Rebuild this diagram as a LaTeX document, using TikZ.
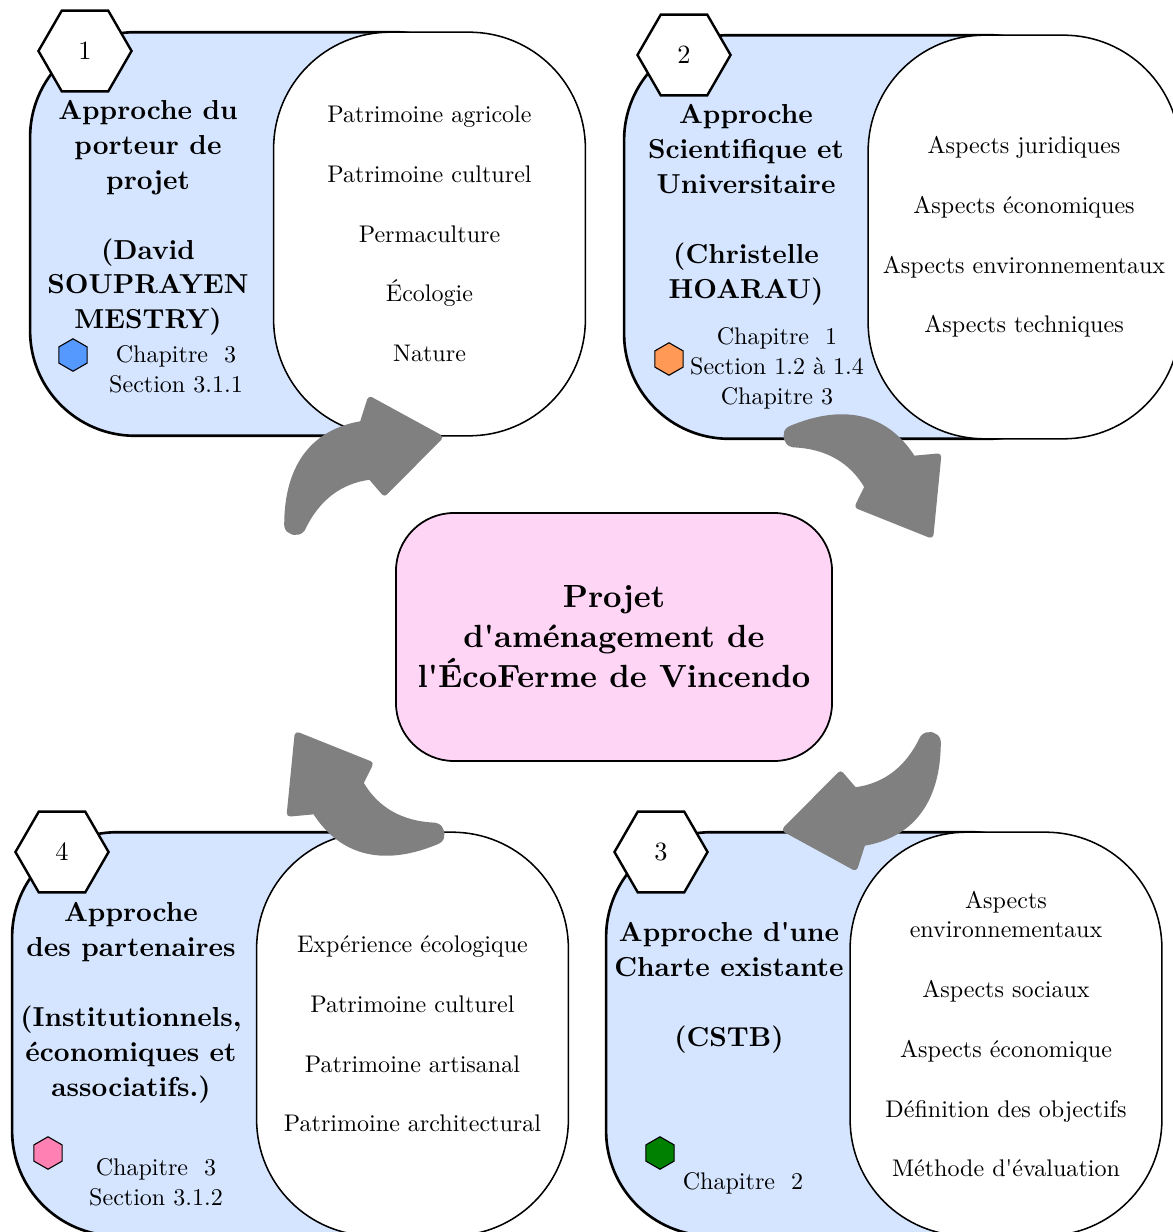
\documentclass[11pt,tikz,border=0pt]{standalone}
\usepackage{fontspec}
\setmainfont{lmroman10-regular}[Extension=.otf, BoldFont=lmroman10-bold, ItalicFont=lmroman10-italic, BoldItalicFont=lmroman10-bolditalic, Ligatures=TeXOff]
\usetikzlibrary{shapes.geometric}
\definecolor{ecoblue}{RGB}{213,229,255}
\definecolor{ecopink}{RGB}{255,213,246}
\definecolor{ecogray}{RGB}{128,128,128}
\definecolor{markblue}{RGB}{85,153,255}
\definecolor{markorange}{RGB}{255,153,85}
\definecolor{markpink}{RGB}{255,128,178}
\definecolor{markgreen}{RGB}{0,128,0}
\tikzset{
  approach/.style={draw, line width=1.2pt, fill=ecoblue, rounded corners=1.68cm, minimum width=7.52cm, minimum height=6.46cm},
  itemlist/.style={draw, line width=0.7pt, fill=white, rounded corners=1.86cm, minimum width=4.99cm, minimum height=6.46cm, align=center},
  numhex/.style={draw, line width=1.1pt, fill=white, regular polygon, regular polygon sides=6, minimum size=1.49cm, inner sep=0pt, font=\large},
  dothex/.style={draw, line width=0.5pt, regular polygon, regular polygon sides=6, shape border rotate=90, minimum size=0.52cm, inner sep=0pt},
  heading/.style={align=center, font=\fontsize{12.5}{15.9}\selectfont\bfseries},
  chapref/.style={align=center},
  cyclearrow/.pic={
    \filldraw[ecogray, line width=3pt, line join=round] (-3.5,29.6) -- (10.3,45.6) -- (64.7,-9.2) -- (-3.8,-46.6) -- (-11.5,-22.5)
      .. controls (-63.2,-14.2) and (-86.7,23.3) .. (-86.7,78.3)
      .. controls (-86.7,85) and (-76,88) .. (-72,81.5)
      .. controls (-57.7,51.3) and (-34.7,33.3) .. cycle;
  }
}
\begin{document}
\begin{tikzpicture}[x=0.016cm, y=-0.016cm]
  \useasboundingbox (0,0) rectangle (1172,1232);
  % Approche 1 : porteur de projet
  \node[approach] (app1) at (265,234) {};
  \node[itemlist] (list1) at (429.5,234) {Patrimoine agricole\\[13.6pt]Patrimoine culturel\\[13.6pt]Permaculture\\[13.6pt]Écologie\\[13.6pt]Nature};
  \node[numhex] (num1) at (85,51) {1};
  \node[heading] (title1) at (148,218) {Approche du\\porteur de\\projet\\[15.9pt](David\\SOUPRAYEN\\MESTRY)};
  \node[dothex, fill=markblue] (mark1) at (73,355) {};
  \node[chapref] (ref1) at (176,369) {Chapitre~~3\\Section 3.1.1};
  % Approche 2 : scientifique
  \node[approach] (app2) at (859,237) {};
  \node[itemlist] (list2) at (1024,237) {Aspects juridiques\\[13.6pt]Aspects économiques\\[13.6pt]Aspects environnementaux\\[13.6pt]Aspects techniques};
  \node[numhex] (num2) at (684,55) {2};
  \node[heading] (title2) at (746,205) {Approche\\Scientifique et\\Universitaire\\[15.9pt](Christelle\\HOARAU)};
  \node[dothex, fill=markorange] (mark2) at (669,359) {};
  \node[chapref] (ref2) at (777,368) {Chapitre~~1\\Section 1.2 à 1.4\\Chapitre 3};
  % Approche 3 : charte
  \node[approach] (app3) at (841,1034) {};
  \node[itemlist] (list3) at (1006,1034) {Aspects\\environnementaux\\[13.6pt]Aspects sociaux\\[13.6pt]Aspects économique\\[13.6pt]Définition des objectifs\\[13.6pt]Méthode d'évaluation};
  \node[numhex] (num3) at (661,852) {3};
  \node[heading] (title3) at (729,988) {Approche d'une\\Charte existante\\[15.9pt](CSTB)};
  \node[dothex, fill=markgreen] (mark3) at (660,1153) {};
  \node[chapref] (ref3) at (743,1183) {Chapitre~~2};
  % Approche 4 : partenaires
  \node[approach] (app4) at (247,1034) {};
  \node[itemlist] (list4) at (412.5,1034) {Expérience écologique\\[13.6pt]Patrimoine culturel\\[13.6pt]Patrimoine artisanal\\[13.6pt]Patrimoine architectural};
  \node[numhex] (num4) at (62,852) {4};
  \node[heading] (title4) at (131,1003) {Approche\\des partenaires\\[15.9pt](Institutionnels,\\économiques et\\associatifs.)};
  \node[dothex, fill=markpink] (mark4) at (48,1153) {};
  \node[chapref] (ref4) at (156,1182) {Chapitre~~3\\Section 3.1.2};
  % Projet central
  \node[draw, line width=0.8pt, fill=ecopink, rounded corners=0.93cm, minimum width=6.98cm, minimum height=3.97cm, align=center, font=\fontsize{14.6}{18.2}\selectfont\bfseries] (projet) at (614,637) {Projet\\d'aménagement de\\l'ÉcoFerme de Vincendo};
  % Fleches du cycle
  \pic at (374.2,446.7) {cyclearrow};
  \pic[rotate=-67] at (896.5,478.5) {cyclearrow};
  \pic[rotate=180] at (850.8,820.3) {cyclearrow};
  \pic[rotate=113] at (331.5,791.5) {cyclearrow};
\end{tikzpicture}
\end{document}
